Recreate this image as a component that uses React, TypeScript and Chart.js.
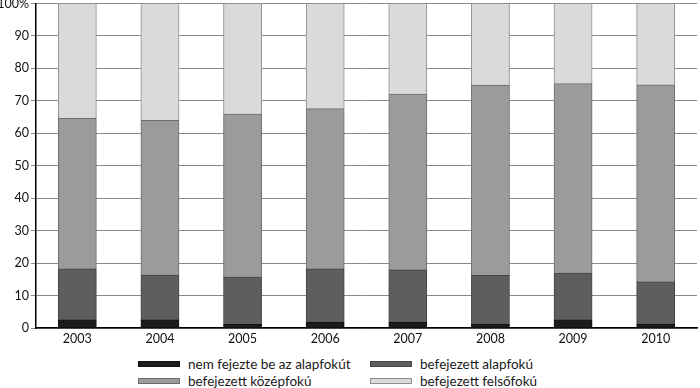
import React, { useEffect, useRef } from "react";
import { Chart, registerables } from "chart.js";

Chart.register(...registerables);

const categories = ["2003", "2004", "2005", "2006", "2007", "2008", "2009", "2010"];
const seriesNames = [
  "nem fejezte be az alapfokút",
  "befejezett alapfokú",
  "befejezett középfokú",
  "befejezett felsőfokú",
];
const nemFejezte = [2.5, 2.5, 1.1, 1.8, 1.8, 1.2, 2.5, 1.2];
const alapfoku = [15.7, 13.8, 14.6, 16.4, 16.1, 15.0, 14.4, 13.0];
const kozepfoku = [46.4, 47.7, 50.2, 49.4, 54.2, 58.6, 58.4, 60.7];
const felsofoku = [35.4, 36.0, 34.1, 32.4, 27.9, 25.2, 24.7, 25.1];
const yTicks = [0, 10, 20, 30, 40, 50, 60, 70, 80, 90, 100];

const fills = ["#1c1c1c", "#5e5e5e", "#9b9b9b", "#dadada"];
const borders = ["#111111", "#444444", "#6c6c6c", "#8f8f8f"];

const FONT = "Lato, 'Open Sans', sans-serif";

export default function App() {
  const ref = useRef<HTMLCanvasElement | null>(null);

  useEffect(() => {
    if (!ref.current) return;
    const values = [nemFejezte, alapfoku, kozepfoku, felsofoku];
    const chart = new Chart(ref.current, {
      type: "bar",
      data: {
        labels: categories,
        datasets: values.map((v, i) => ({
          label: seriesNames[i],
          data: v,
          backgroundColor: fills[i],
          borderColor: borders[i],
          borderWidth: { top: 1, left: 1, right: 1, bottom: 0 },
          borderSkipped: false,
          inflateAmount: 0.4,
          categoryPercentage: 1,
          barPercentage: 0.46,
        })),
      },
      options: {
        animation: false,
        responsive: false,
        maintainAspectRatio: false,
        layout: { padding: { top: 0, right: 3, left: 0, bottom: 0 } },
        plugins: {
          legend: { display: false },
          tooltip: { enabled: false },
        },
        scales: {
          x: {
            stacked: true,
            grid: { display: false, drawTicks: false, tickLength: 0 },
            border: { display: true, color: "#000000", width: 1.5 },
            ticks: {
              color: "#111111",
              font: { family: FONT, size: 12.5 },
              padding: 3,
            },
            afterFit: (scale: any) => {
              scale.height = 22;
            },
          },
          y: {
            stacked: true,
            min: 0,
            max: 100,
            afterBuildTicks: (scale: any) => {
              scale.ticks = yTicks.map((v) => ({ value: v }));
            },
            ticks: {
              color: "#111111",
              font: { family: FONT, size: 12.5 },
              padding: 2,
              callback: (v: any) => (Number(v) === 100 ? "100%" : String(v)),
            },
            grid: {
              color: "#8a8a8a",
              lineWidth: 1,
              tickLength: 5,
              drawTicks: true,
            },
            border: { display: true, color: "#000000", width: 1.5 },
            afterFit: (scale: any) => {
              scale.width = 36;
            },
          },
        },
      },
    });
    return () => chart.destroy();
  }, []);

  const legendItem = (i: number, left: number, top: number) => (
    <div
      key={i}
      style={{
        position: "absolute",
        left,
        top,
        display: "flex",
        alignItems: "center",
        height: 16,
      }}
    >
      <div
        style={{
          width: 42,
          height: 6,
          background: fills[i],
          border: `1px solid ${borders[i]}`,
          boxSizing: "border-box",
          marginRight: 8,
        }}
      />
      <span style={{ fontFamily: FONT, fontSize: 13.5, color: "#1a1a1a", whiteSpace: "nowrap" }}>
        {seriesNames[i]}
      </span>
    </div>
  );

  return (
    <div
      style={{
        position: "fixed",
        left: 0,
        top: 0,
        width: 700,
        height: 388,
        background: "#ffffff",
        overflow: "hidden",
      }}
    >
      <canvas ref={ref} width={700} height={356} style={{ position: "absolute", left: 0, top: -6 }} />
      {legendItem(0, 138, 356)}
      {legendItem(1, 370, 356)}
      {legendItem(2, 138, 373)}
      {legendItem(3, 370, 373)}
    </div>
  );
}
